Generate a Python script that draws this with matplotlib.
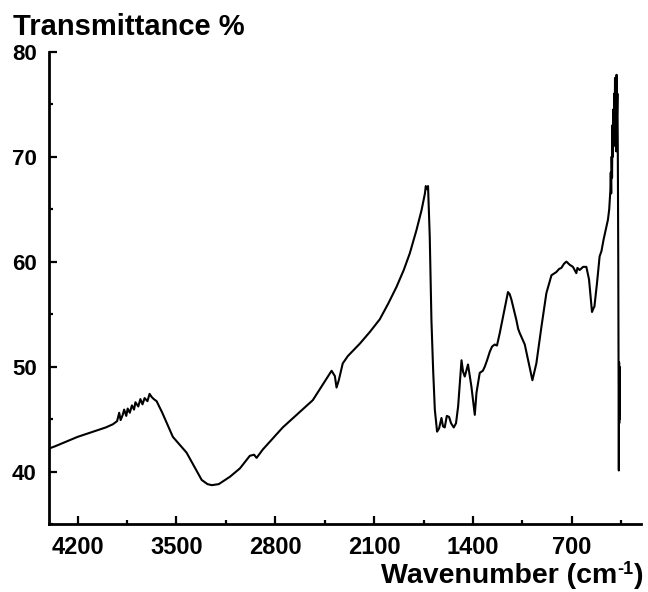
import matplotlib
matplotlib.use("Agg")
import matplotlib.pyplot as plt
from matplotlib.ticker import MultipleLocator

plt.rcParams['font.family'] = ['Liberation Sans', 'DejaVu Sans']
plt.rcParams['font.weight'] = 'bold'

# FTIR spectrum (wavenumber cm-1, transmittance %)
wavenumber = [4400, 4360, 4200, 4000, 3950, 3920, 3905, 3895, 3880, 3870, 3855, 3845,
              3830, 3815, 3800, 3790, 3770, 3755, 3740, 3725, 3705, 3690, 3675, 3660,
              3640, 3600, 3525, 3428, 3321, 3280, 3249, 3200, 3121, 3050, 3003, 2980,
              2950, 2932, 2888, 2747, 2534, 2401, 2378, 2366, 2350, 2322, 2286, 2200,
              2130, 2060, 2000, 1941, 1890, 1847, 1800, 1764, 1740, 1734, 1726, 1718,
              1706, 1694, 1682, 1670, 1654, 1640, 1623, 1612, 1600, 1585, 1569, 1555,
              1536, 1520, 1505, 1481, 1470, 1458, 1435, 1411, 1387, 1375, 1352, 1330,
              1316, 1300, 1281, 1265, 1246, 1230, 1210, 1182, 1152, 1140, 1128, 1092,
              1080, 1069, 1033, 979, 951, 915, 880, 844, 810, 790, 774, 755, 738, 715,
              692, 668, 660, 644, 620, 597, 578, 557, 545, 540, 522, 503, 490, 475,
              460, 444, 435, 427, 424, 421, 418, 415, 412, 409, 406, 403, 400, 397,
              394, 391, 388, 385, 383, 380, 377, 374, 371, 368, 367, 366, 365, 364,
              363, 362, 361]
transmittance = [42.2, 42.4, 43.3, 44.2, 44.5, 44.8, 45.6, 44.9, 45.4, 45.9, 45.3, 46.0,
                 45.6, 46.3, 45.9, 46.6, 46.2, 46.9, 46.4, 47.0, 46.7, 47.4, 47.1, 46.9,
                 46.7, 45.6, 43.3, 41.8, 39.2, 38.8, 38.7, 38.8, 39.5, 40.3, 41.1, 41.5,
                 41.6, 41.3, 42.1, 44.2, 46.8, 49.6, 49.1, 48.0, 48.7, 50.3, 51.0, 52.2,
                 53.3, 54.5, 56.0, 57.6, 59.2, 60.8, 63.0, 64.9, 66.5, 67.2, 66.9, 67.2,
                 62.4, 54.4, 49.7, 45.9, 43.8, 44.1, 45.1, 44.3, 44.2, 45.3, 45.2, 44.6,
                 44.2, 44.6, 46.2, 50.6, 49.5, 49.05, 50.2, 48.1, 45.4, 47.5, 49.4, 49.6,
                 50.0, 50.6, 51.4, 51.9, 52.1, 52.0, 53.2, 55.1, 57.1, 56.9, 56.4, 54.4,
                 53.6, 53.2, 52.1, 48.7, 50.3, 53.8, 57.0, 58.7, 59.0, 59.3, 59.4, 59.8,
                 60.0, 59.7, 59.5, 58.9, 59.4, 59.2, 59.5, 59.5, 58.3, 55.2, 55.6, 55.7,
                 57.9, 60.5, 61.0, 62.1, 63.0, 64.0, 65.0, 66.8, 68.5, 66.5, 70.0, 68.0,
                 73.0, 70.0, 74.5, 71.0, 76.0, 72.0, 77.5, 73.0, 77.0, 70.5, 77.8, 74.0,
                 76.0, 70.0, 60.0, 45.0, 40.1, 46.0, 50.4, 44.6, 50.0, 45.0, 48.0]

x_ticks = [4200, 3500, 2800, 2100, 1400, 700]
y_ticks = [40, 50, 60, 70, 80]

fig = plt.figure(figsize=(6.48, 5.92), dpi=100)
ax = fig.add_axes([49.3 / 648, 1 - 524 / 592, (641 - 49.3) / 648, (524 - 51.7) / 592])

ax.plot(wavenumber, transmittance, color='black', lw=1.5)

ax.set_xlim(4400, 210)
ax.set_ylim(35, 80)
ax.set_xticks(x_ticks)
ax.set_yticks(y_ticks)
ax.xaxis.set_minor_locator(MultipleLocator(350))
ax.yaxis.set_minor_locator(MultipleLocator(5))

for s in ['top', 'right']:
    ax.spines[s].set_visible(False)
for s in ['left', 'bottom']:
    ax.spines[s].set_linewidth(2.0)

ax.tick_params(which='major', direction='in', length=6, width=1.6)
ax.tick_params(which='minor', direction='in', length=3, width=1.6)
ax.tick_params(axis='x', which='major', labelsize=17, pad=9)
ax.tick_params(axis='y', which='major', labelsize=16, pad=9)
for lab in ax.get_xticklabels() + ax.get_yticklabels():
    lab.set_fontweight('bold')

fig.text(13 / 648, 1 - 35 / 592, 'Transmittance %', fontsize=21, fontweight='bold',
         ha='left', va='baseline')

# x-axis label with hyphen superscript, assembled right-aligned
renderer = fig.canvas.get_renderer()
base_y = 1 - 583 / 592
right_px = 643
t_close = fig.text(right_px / 648, base_y, ')', fontsize=20.5, fontweight='bold',
                   ha='right', va='baseline')
w_close = t_close.get_window_extent(renderer).width
t_sup = fig.text((right_px - w_close) / 648, base_y + 9 / 592, '-1', fontsize=13,
                 fontweight='bold', ha='right', va='baseline')
w_sup = t_sup.get_window_extent(renderer).width
fig.text((right_px - w_close - w_sup) / 648, base_y, 'Wavenumber (cm', fontsize=20.5,
         fontweight='bold', ha='right', va='baseline')

fig.savefig('out.png', dpi=100)
